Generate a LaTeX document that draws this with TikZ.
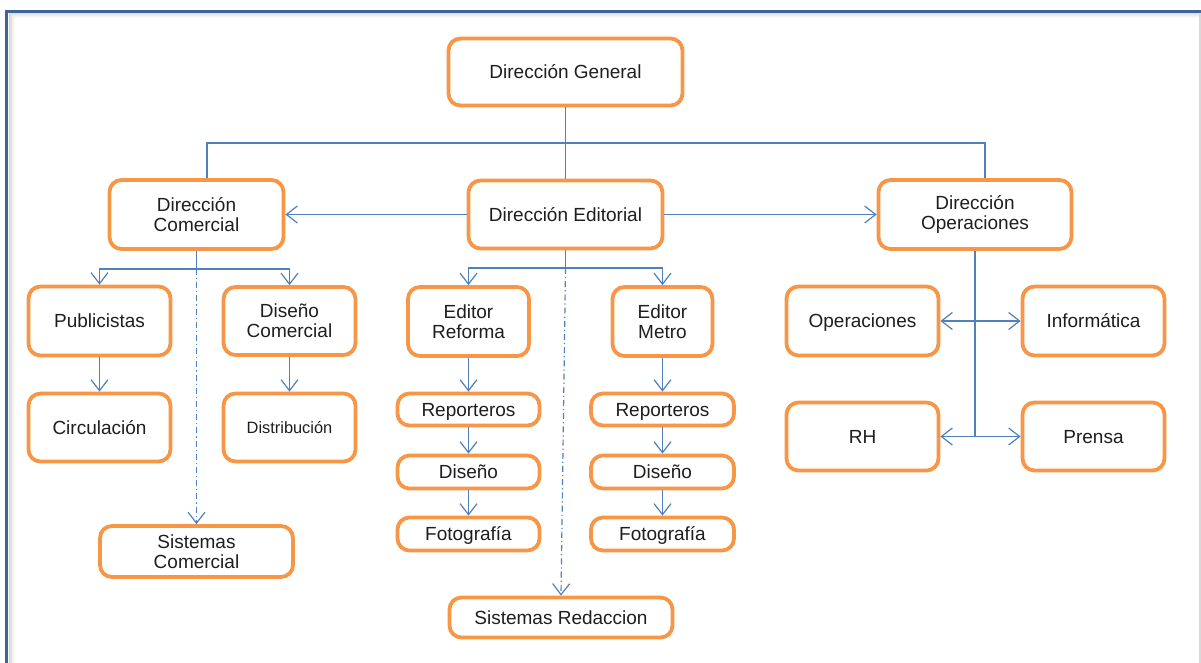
\documentclass[tikz,border=0pt]{standalone}
\usepackage{fontspec}
\setmainfont{Liberation Sans}
\usetikzlibrary{arrows.meta}
\definecolor{boxorange}{HTML}{F79646}
\definecolor{linkblue}{HTML}{4F81BD}
\definecolor{framefg}{HTML}{3F6598}
\definecolor{inktext}{HTML}{1E1E1E}
\begin{document}
\begin{tikzpicture}[x=0.5pt,y=-0.5pt,
  box/.style={draw=boxorange, line width=1.9pt, rounded corners=6pt, fill=white,
    inner sep=0pt, align=center, text=inktext,
    font=\fontsize{9.5}{9.8}\selectfont},
  oneline/.style={text height=6.6pt, text depth=0pt},
  link/.style={draw=linkblue, line width=0.6pt},
  arr/.style={link, -{Straight Barb[length=5.5pt,width=8.5pt,line width=0.6pt]}},
  dashdot/.style={dash pattern=on 3pt off 1.5pt on 0.6pt off 1.5pt}]
\useasboundingbox (0,0) rectangle (1201,663);
\fill[white] (0,0) rectangle (1201,663);

% page frame with its soft shadow
\foreach \d/\o in {1/0.35,2/0.28,3/0.22,4/0.15,5/0.09,6/0.05}{
  \draw[black!45, opacity=\o, line width=0.5pt] (8+\d,12+\d) -- (1201,12+\d);
  \draw[black!45, opacity=\o, line width=0.5pt] (8+\d,12+\d) -- (8+\d,663);
}
\draw[black!15, line width=0.8pt] (1200,14) -- (1200,663);
\draw[framefg, line width=1.4pt] (6.5,663) -- (6.5,11.5) -- (1201,11.5);

% boxes
\node[box, oneline, minimum width=117pt, minimum height=33.5pt] (dg) at (565.5,72) {Dirección General};
\node[box, minimum width=87pt,  minimum height=34.5pt] (dc)   at (196.5,214.5){Dirección\\Comercial};
\node[box, oneline, minimum width=97pt, minimum height=34pt] (de) at (565.5,214.5) {Dirección Editorial};
\node[box, minimum width=96.5pt,minimum height=34.5pt] (dop)  at (975,214.5)  {Dirección\\Operaciones};

\node[box, oneline, minimum width=71pt, minimum height=34.5pt] (pub)  at (99.5,321)   {Publicistas};
\node[box, oneline, minimum width=71pt, minimum height=34pt]   (circ) at (99.5,427.5) {Circulación};
\node[box, minimum width=66pt,  minimum height=34pt]   (dcom) at (289.5,321)  {Diseño\\Comercial};
\node[box, oneline, minimum width=66pt, minimum height=34pt, font=\fontsize{8.2}{9}\selectfont, text height=5.8pt] (dist) at (289.5,427.5) {Distribución};
\node[box, minimum width=96.5pt,minimum height=25.5pt] (sc)   at (196.5,551.5){Sistemas\\Comercial};

\node[box, minimum width=60.5pt,minimum height=34.5pt] (er)   at (468.5,321.5){Editor\\Reforma};
\node[box, minimum width=50pt,  minimum height=34.5pt] (em)   at (662.5,321.5){Editor\\Metro};
\node[box, oneline, minimum width=71pt,  minimum height=16pt]   (rep1) at (468.5,409.5){Reporteros};
\node[box, oneline, minimum width=71pt,  minimum height=16.5pt] (dis1) at (468.5,472)  {Diseño};
\node[box, oneline, minimum width=71pt,  minimum height=16.5pt] (fot1) at (468.5,534)  {Fotografía};
\node[box, oneline, minimum width=71.5pt,minimum height=16pt]   (rep2) at (662.5,409.5){Reporteros};
\node[box, oneline, minimum width=71.5pt,minimum height=16.5pt] (dis2) at (662.5,472)  {Diseño};
\node[box, oneline, minimum width=71.5pt,minimum height=16.5pt] (fot2) at (662.5,534)  {Fotografía};
\node[box, oneline, minimum width=111.5pt,minimum height=20pt]  (sr)   at (561,617.5)  {Sistemas Redaccion};

\node[box, oneline, minimum width=76pt, minimum height=34.5pt] (ope) at (862.5,321)   {Operaciones};
\node[box, oneline, minimum width=71pt, minimum height=34.5pt] (inf) at (1093.5,321)  {Informática};
\node[box, oneline, minimum width=76pt, minimum height=34pt]   (rh)  at (862.5,436.5) {RH};
\node[box, oneline, minimum width=71pt, minimum height=34pt]   (pre) at (1093.5,436.5){Prensa};

% top level links
\coordinate (busL) at (207,143);
\coordinate (busR) at (985,143);
\draw[link] (dg.south) -- (de.north);
\draw[link] (busL |- dc.north) -- (busL) -- (busR) -- (busR |- dop.north);
\draw[arr] (de.west) -- (dc.east);
\draw[arr] (de.east) -- (dop.west);

% commercial branch
\coordinate (jc) at (196.5,269);
\draw[link] (dc.south) -- (jc);
\draw[arr] (jc) -| (pub.north);
\draw[arr] (jc) -| (dcom.north);
\draw[arr, dashdot] (jc) -- (sc.north);
\draw[arr] (pub) -- (circ);
\draw[arr] (dcom) -- (dist);

% editorial branch
\coordinate (je) at (565.5,268);
\draw[link] (de.south) -- (je);
\draw[arr] (je) -| (er.north);
\draw[arr] (je) -| (em.north);
\draw[arr, dashdot] (je) -- (sr.north);
\draw[arr] (er) -- (rep1);
\draw[arr] (rep1) -- (dis1);
\draw[arr] (dis1) -- (fot1);
\draw[arr] (em) -- (rep2);
\draw[arr] (rep2) -- (dis2);
\draw[arr] (dis2) -- (fot2);

% operations branch
\coordinate (t1) at (975,321);
\coordinate (t2) at (975,436.5);
\draw[link] (dop.south) -- (t2);
\draw[arr] (t1) -- (ope.east);
\draw[arr] (t1) -- (inf.west);
\draw[arr] (t2) -- (rh.east);
\draw[arr] (t2) -- (pre.west);
\end{tikzpicture}
\end{document}
